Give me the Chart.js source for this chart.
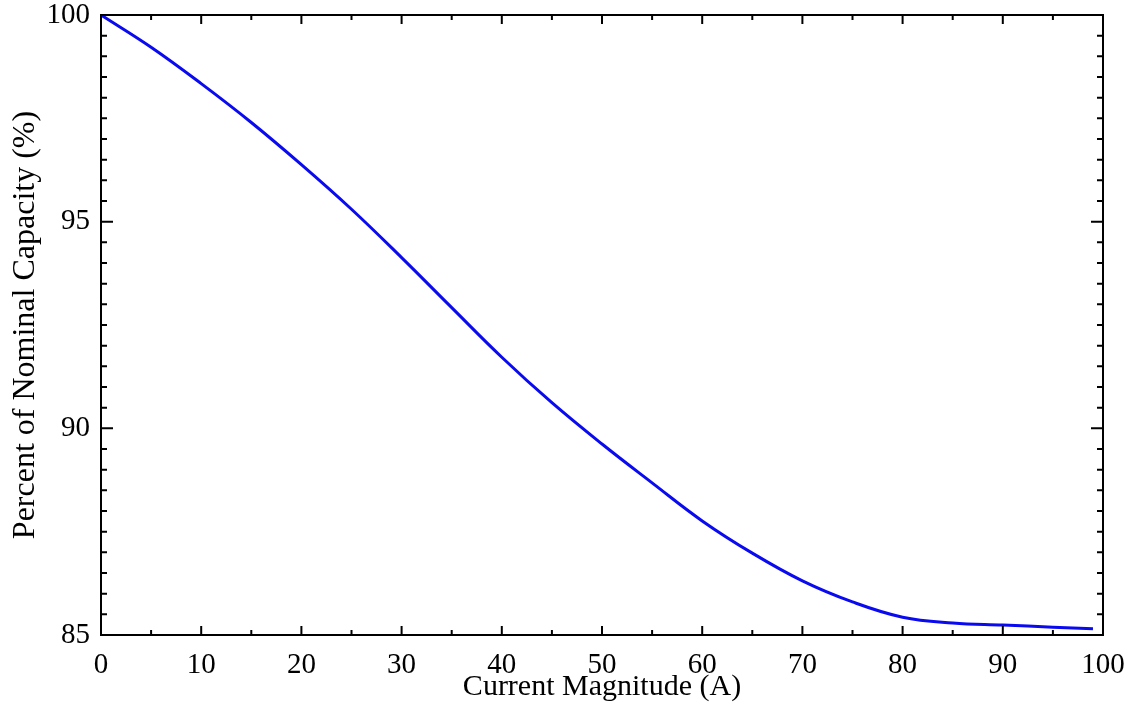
<!DOCTYPE html>
<html>
<head>
<meta charset="utf-8">
<script src="https://cdn.jsdelivr.net/npm/chart.js@4"></script>
<style>
  html, body { margin: 0; padding: 0; background: #fff; }
  #wrap { width: 1139px; height: 706px; }
</style>
</head>
<body>
<div id="wrap"><canvas id="capacityChart"></canvas></div>
<script>
// current (A) and percent of nominal capacity
const currents = [0, 5, 10, 15, 20, 25, 30, 35, 40, 45, 50, 55, 60, 65, 70, 75, 80, 85, 90, 95, 99];
const capacity = [100, 99.22, 98.34, 97.40, 96.38, 95.30, 94.13, 92.92, 91.72, 90.62, 89.62, 88.68,
                  87.76, 86.98, 86.31, 85.80, 85.43, 85.29, 85.24, 85.19, 85.15];
const xTicks = [0, 10, 20, 30, 40, 50, 60, 70, 80, 90, 100];
const yTicks = [85, 90, 95, 100];

const serif = "'Liberation Serif', 'DejaVu Serif', serif";

// frame with inward ticks on all four sides, like the original plot
const framePlugin = {
    id: 'frame',
    afterDraw(chart) {
        const { ctx, chartArea: a, scales } = chart;
        const x = scales.x, y = scales.y;
        ctx.save();
        ctx.strokeStyle = '#000';
        ctx.lineWidth = 2;
        ctx.strokeRect(a.left, a.top, a.right - a.left, a.bottom - a.top);

        ctx.beginPath();
        for (let v = 0; v <= 100; v += 5) {
            const px = x.getPixelForValue(v);
            const len = v % 10 === 0 ? 9 : 5;
            ctx.moveTo(px, a.bottom); ctx.lineTo(px, a.bottom - len);
            ctx.moveTo(px, a.top); ctx.lineTo(px, a.top + len);
        }
        for (let v = 85; v <= 100; v += 0.5) {
            const py = y.getPixelForValue(v);
            const len = Math.abs(v % 5) < 1e-9 ? 12 : 6;
            ctx.moveTo(a.left, py); ctx.lineTo(a.left + len, py);
            ctx.moveTo(a.right, py); ctx.lineTo(a.right - len, py);
        }
        ctx.stroke();
        ctx.restore();
    }
};

new Chart(document.getElementById('capacityChart').getContext('2d'), {
    type: 'line',
    data: {
        datasets: [{
            label: 'Capacity',
            data: currents.map((c, i) => ({ x: c, y: capacity[i] })),
            borderColor: 'rgb(10, 10, 240)',
            borderWidth: 3,
            pointRadius: 0,
            fill: false,
            tension: 0.4
        }]
    },
    options: {
        responsive: true,
        maintainAspectRatio: false,
        animation: false,
        layout: { padding: { top: 15, right: 36, left: 0, bottom: 0 } },
        plugins: { legend: { display: false }, tooltip: { enabled: false } },
        scales: {
            x: {
                type: 'linear',
                min: 0,
                max: 100,
                afterBuildTicks: s => { s.ticks = xTicks.map(v => ({ value: v })); },
                afterFit: s => { s.height = 71; s.paddingLeft = 0; s.paddingRight = 0; },
                grid: { display: false },
                border: { display: false },
                ticks: { color: '#000', font: { family: serif, size: 29 }, padding: 5, maxRotation: 0 },
                title: {
                    display: true,
                    text: 'Current Magnitude (A)',
                    color: '#000',
                    font: { family: serif, size: 30 },
                    padding: { top: 0, bottom: 1 }
                }
            },
            y: {
                type: 'linear',
                min: 85,
                max: 100,
                afterBuildTicks: s => { s.ticks = yTicks.map(v => ({ value: v })); },
                afterFit: s => { s.width = 101; s.paddingTop = 0; s.paddingBottom = 0; },
                grid: { display: false },
                border: { display: false },
                ticks: { color: '#000', font: { family: serif, size: 29 }, padding: 3 },
                title: {
                    display: true,
                    text: 'Percent of Nominal Capacity (%)',
                    color: '#000',
                    font: { family: serif, size: 32 },
                    padding: { top: 6, bottom: 0 }
                }
            }
        }
    },
    plugins: [framePlugin]
});
</script>
</body>
</html>
